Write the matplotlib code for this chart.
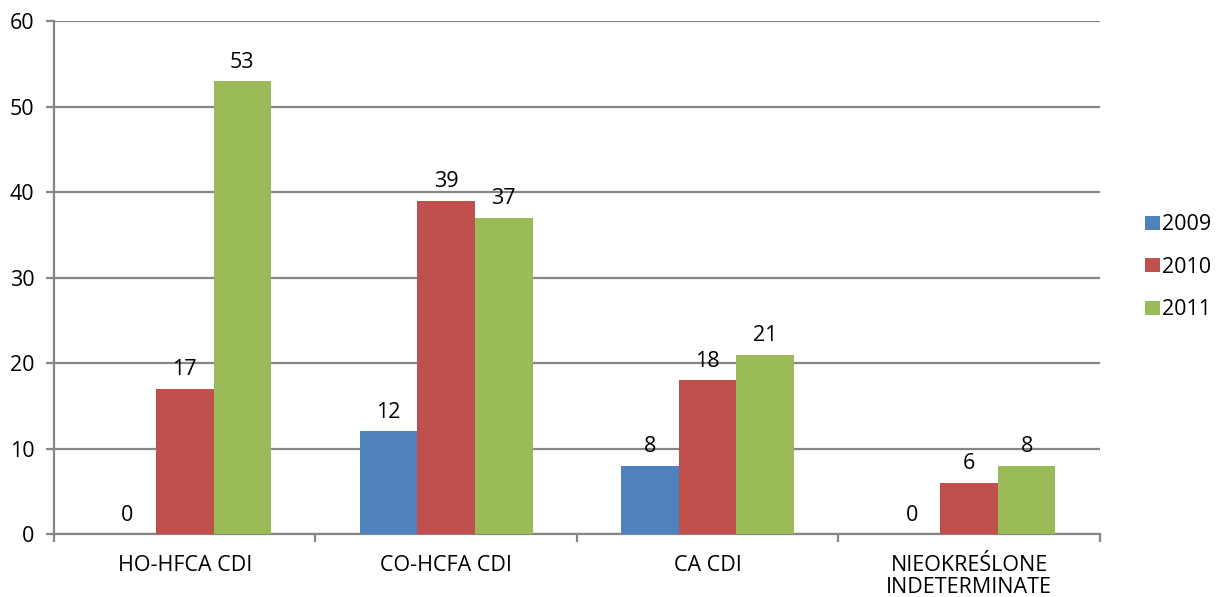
import numpy as np
import matplotlib.pyplot as plt

categories = ['HO-HFCA CDI', 'CO-HCFA CDI', 'CA CDI', 'NIEOKREŚLONE\nINDETERMINATE']
years = ['2009', '2010', '2011']
values_2009 = [0, 12, 8, 0]
values_2010 = [17, 39, 18, 6]
values_2011 = [53, 37, 21, 8]
colors = ['#4F81BD', '#C0504D', '#9BBB59']

plt.rcParams['font.family'] = ['Open Sans', 'DejaVu Sans']
grid_col = '#868686'
fs = 15.5

fig = plt.figure(figsize=(12.19, 5.97), dpi=100)
ax = fig.add_axes([0.0443, 0.1055, 0.858, 0.859])

x = np.arange(len(categories))
width = 0.22
series = [values_2009, values_2010, values_2011]
for i, (vals, year, col) in enumerate(zip(series, years, colors)):
    pos = x + (i - 1) * width
    ax.bar(pos, vals, width, color=col, label=year, zorder=3)
    for px, v in zip(pos, vals):
        ax.annotate(str(v), (px, v), xytext=(0, 6), textcoords='offset points',
                    ha='center', va='bottom', fontsize=fs, color='black')

ax.set_xlim(-0.5, len(categories) - 0.5)
ax.set_ylim(0, 60)
ax.set_yticks(range(0, 61, 10))
ax.yaxis.grid(True, color=grid_col, linewidth=1.6, zorder=0)
ax.tick_params(axis='y', length=6, width=1.6, color=grid_col, labelsize=fs, pad=8)

# category labels centred, ticks on category boundaries
ax.set_xticks(x)
ax.set_xticklabels(categories, fontsize=fs, linespacing=1.05)
ax.tick_params(axis='x', length=0, pad=15)
ax.set_xticks(np.arange(-0.5, len(categories)), minor=True)
ax.tick_params(axis='x', which='minor', length=6, width=1.6, color=grid_col)

for side in ['top', 'right']:
    ax.spines[side].set_visible(False)
for side in ['left', 'bottom']:
    ax.spines[side].set_color(grid_col)
    ax.spines[side].set_linewidth(1.6)

leg = ax.legend(loc='center left', bbox_to_anchor=(1.035, 0.52), frameon=False,
                fontsize=fs, handlelength=0.7, handleheight=0.6,
                handletextpad=0.1, labelspacing=1.0, borderaxespad=0)

fig.savefig('out.png', dpi=100)
